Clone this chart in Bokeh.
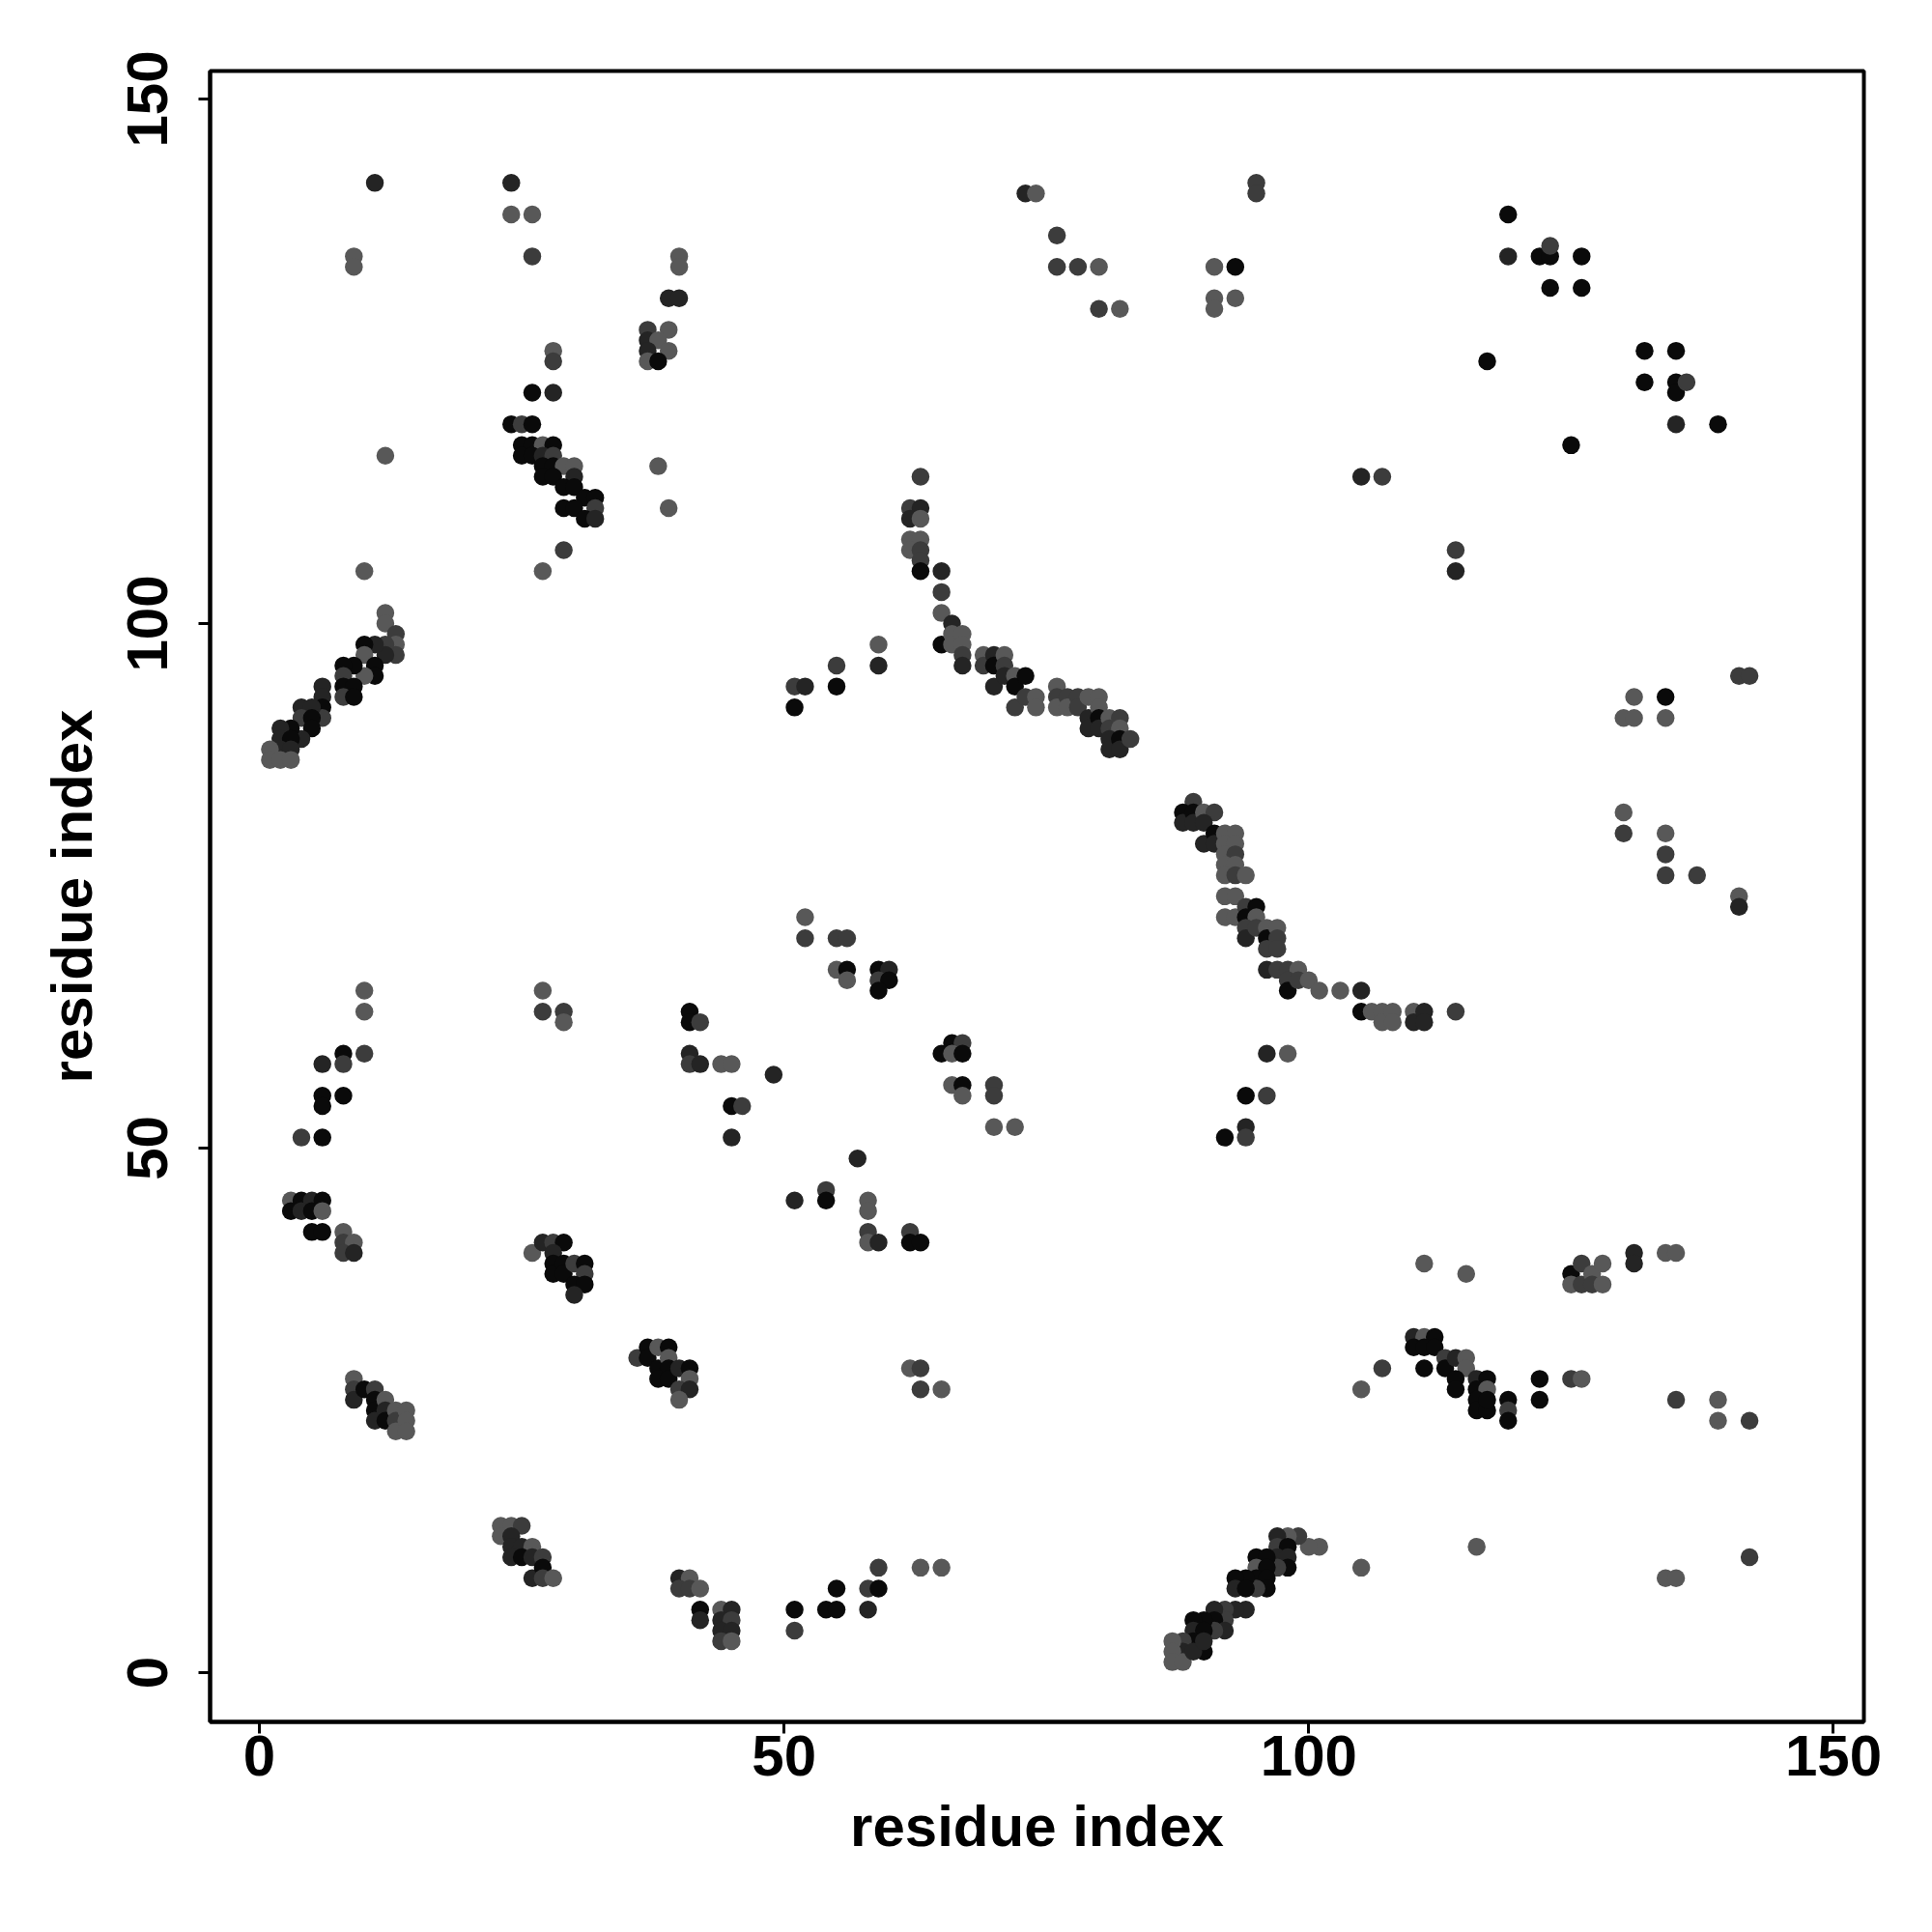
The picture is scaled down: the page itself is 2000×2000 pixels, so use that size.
from bokeh.plotting import figure
from bokeh.models import ColumnDataSource, Range1d, FixedTicker
from bokeh.embed import file_html
from bokeh.resources import INLINE

# gray levels of the markers (0 = black)
K, D, M, G = 10, 36, 60, 88

# contacts: residue i (x), residue j (y), gray shade
res_i = [
    11, 24, 24, 26, 9, 9, 26, 28, 28, 26, 28, 24, 25, 26,
    25, 26, 27, 28, 25, 26, 27, 28, 27, 28, 29, 30, 27, 28, 30, 29, 30, 31, 32, 29, 30, 32, 31, 32,
    29, 27, 10, 12, 12,
    73, 74, 40, 40, 39, 40, 37, 39, 37, 38, 37, 39, 37, 38, 38, 39,
    63, 62, 63, 62, 63, 62, 63, 62, 63, 63, 63, 65, 65, 65, 66,
    95, 95, 76, 76, 78, 80, 80, 82, 91, 93, 91, 91, 93, 105, 107, 114, 114,
    119, 119, 122, 123, 123, 126, 123, 126, 117, 125, 132, 135, 132, 135, 135, 136, 135, 139,
    12, 13, 13, 13, 12, 12, 11, 10, 10, 11, 11, 10, 9, 8, 8, 8, 9, 8, 9, 6, 6, 6, 6, 4, 5, 4, 5, 5,
    4, 3, 2, 2, 3, 2, 3, 1, 1, 2, 3,
    10, 10, 10, 8, 8, 6, 6, 8, 6, 4, 6, 27, 27, 29, 29,
    59, 59, 55, 55, 51, 52, 51, 65, 66, 66, 67, 67, 67, 67, 69, 69, 70, 70, 70, 71, 71, 71, 72, 72,
    72, 73, 73, 74, 74,
    76, 76, 76, 77, 77, 78, 78, 79, 79, 79, 80, 80, 80, 80, 81, 81, 82, 82, 81, 81, 82, 82, 83,
    89, 88, 88, 89, 89, 90, 91, 90, 90, 91, 91, 92, 93, 92, 93, 92, 93, 92, 93, 92, 93, 94, 92, 93,
    92, 93, 94, 95, 94, 95, 94, 94, 95, 96, 96, 97, 97, 96, 97, 96, 97, 98, 99, 98, 98, 99, 100, 101,
    103, 105, 105, 106, 107, 107, 108, 108, 110, 110, 111, 111, 114, 96, 98, 94, 96, 94, 94, 92,
    141, 142, 131, 134, 130, 131, 134, 130, 130, 134, 134, 134, 137, 141, 141,
    52, 52, 55, 56, 55, 56, 56, 59, 60, 59, 60, 59, 41, 41, 42, 41, 41, 42, 44, 45, 49, 45, 46, 45,
    57, 65, 66, 67, 66, 67, 66, 67, 67, 70, 70, 70, 72,
    3, 4, 5, 6, 3, 4, 5, 6, 5, 6, 8, 8, 9, 8, 9,
    26, 27, 28, 29, 28, 28, 28, 29, 29, 30, 31, 31, 30, 31, 30,
    9, 9, 9, 10, 11, 11, 11, 11, 12, 12, 12, 13, 13, 13, 14, 14, 14,
    23, 24, 25, 23, 24, 24, 25, 26, 24, 25, 26, 27, 26, 27, 27, 28,
    51, 54, 54, 58, 58, 58, 58, 59, 62, 62, 63,
    36, 37, 37, 38, 39, 38, 39, 39, 38, 39, 40, 41, 41, 40, 41, 40,
    62, 63, 63, 65,
    59, 63, 65, 55, 58, 59, 51, 54, 55, 58, 51,
    40, 41, 40, 41, 42, 42, 42, 44, 45, 44, 45, 44, 45, 44, 45,
    111, 110, 111, 112, 110, 111, 112, 111, 113, 113, 107, 105, 105,
    101, 100, 99, 98, 97, 97, 98, 97, 98, 98, 97, 95, 96, 95, 96, 95, 96, 96, 95, 94, 93, 93, 94,
    94, 93, 92, 92, 91, 91, 92, 91, 90, 89, 89, 90, 90, 89, 88, 88, 87, 87, 87, 88, 89, 90,
    115, 125, 126, 125, 126, 127, 127, 128, 128, 131, 131, 134, 135,
    114, 115, 115, 114, 114, 116, 117, 116, 117, 116, 116, 117, 117, 119, 119, 119, 122, 122, 125,
    126, 135, 139, 139, 142, 116, 134, 135, 142,
]
res_j = [
    142, 142, 139, 139, 135, 134, 135, 126, 125, 122, 122, 119, 119, 119,
    117, 117, 117, 117, 116, 116, 116, 116, 115, 115, 115, 115, 114, 114, 114, 113, 113, 112, 112,
    111, 111, 111, 110, 110,
    107, 105, 105, 116, 101,
    141, 141, 135, 134, 131, 131, 128, 128, 127, 127, 126, 126, 125, 125, 115, 111,
    114, 111, 111, 110, 110, 108, 108, 107, 107, 106, 105, 105, 103, 101, 100,
    142, 141, 137, 134, 134, 134, 130, 130, 134, 134, 131, 130, 131, 114, 114, 107, 105,
    139, 135, 135, 135, 136, 135, 132, 132, 125, 117, 126, 126, 123, 123, 122, 123, 119, 119,
    100, 99, 98, 97, 98, 97, 98, 98, 97, 96, 95, 95, 96, 96, 95, 94, 94, 93, 93, 94, 93, 92, 91, 92,
    92, 91, 91, 90,
    89, 90, 90, 89, 89, 88, 88, 88, 87, 87, 87,
    65, 63, 59, 59, 58, 58, 55, 55, 54, 51, 51, 65, 63, 63, 62,
    98, 96, 96, 94, 94, 94, 92, 98, 99, 98, 99, 98, 97, 96, 97, 96, 97, 96, 94, 97, 96, 95, 95, 94,
    92, 95, 93, 93, 92,
    94, 93, 92, 93, 92, 93, 92, 93, 91, 90, 93, 92, 91, 90, 91, 90, 91, 90, 89, 88, 89, 88, 89,
    83, 82, 81, 82, 81, 82, 82, 81, 79, 80, 79, 80, 80, 79, 79, 78, 78, 77, 77, 76, 76, 76, 74, 74,
    72, 72, 73, 73, 72, 72, 71, 70, 71, 71, 70, 71, 70, 69, 69, 67, 67, 67, 67, 66, 65, 66, 66, 65,
    65, 65, 63, 63, 63, 62, 63, 62, 63, 62, 63, 62, 63, 59, 59, 55, 55, 52, 51, 51,
    95, 95, 93, 93, 91, 91, 91, 82, 80, 80, 78, 76, 76, 74, 73,
    72, 70, 70, 70, 67, 67, 66, 67, 67, 66, 66, 65, 63, 62, 62, 59, 58, 58, 58, 58, 57, 54, 54, 51,
    49, 59, 60, 60, 59, 59, 56, 56, 55, 56, 55, 52, 52,
    45, 45, 45, 45, 44, 44, 44, 44, 42, 42, 42, 41, 41, 40, 40,
    40, 41, 41, 41, 40, 39, 38, 39, 38, 39, 39, 38, 37, 37, 36,
    28, 27, 26, 27, 27, 26, 25, 24, 26, 25, 24, 25, 24, 23, 25, 24, 23,
    14, 14, 14, 13, 13, 12, 12, 12, 11, 11, 11, 11, 9, 10, 9, 9,
    45, 46, 45, 45, 44, 42, 41, 41, 42, 41, 41,
    30, 31, 30, 31, 31, 29, 30, 29, 28, 28, 29, 29, 28, 27, 27, 26,
    29, 29, 27, 27,
    10, 10, 10, 8, 8, 8, 6, 6, 6, 6, 4,
    9, 9, 8, 8, 8, 6, 5, 6, 6, 5, 5, 4, 4, 3, 3,
    39, 32, 32, 32, 31, 31, 31, 29, 30, 29, 29, 27, 10,
    12, 12, 13, 13, 13, 12, 12, 11, 11, 10, 10, 11, 11, 10, 10, 9, 9, 8, 8, 9, 9, 8, 8,
    6, 6, 6, 5, 6, 5, 4, 4, 5, 5, 4, 4, 2, 3, 3, 2, 3, 2, 1, 1, 2, 3,
    38, 38, 39, 37, 37, 38, 37, 39, 37, 40, 39, 40, 40,
    30, 30, 29, 28, 27, 28, 28, 27, 27, 26, 25, 25, 26, 26, 25, 24, 28, 26, 28,
    28, 26, 26, 24, 24, 12, 9, 9, 11,
]
shade = [
    D, D, G, G, G, G, M, G, M, K, D, K, M, K,
    K, K, G, K, K, K, D, M, K, K, G, G, K, K, D, K, K, K, K, K, K, M, K, D,
    M, G, G, G, G,
    D, G, G, G, D, D, M, G, D, G, D, G, G, K, G, G,
    M, M, D, D, G, G, G, G, M, M, K, D, M, G, D,
    M, M, M, M, M, G, M, G, G, K, G, G, G, D, M, M, D,
    K, D, K, K, M, K, K, K, K, K, K, K, K, K, K, M, D, K,
    G, M, G, M, M, D, D, K, G, K, K, G, K, K, M, K, K, M, K, D, D, K, M, D, D, M, K, K,
    D, K, D, D, K, D, D, G, G, G, G,
    G, G, M, K, M, D, K, K, K, M, K, G, M, M, G,
    G, D, M, K, M, D, K, K, G, G, G, G, M, D, G, M, D, K, D, G, M, D, G, K,
    M, K, M, G, G,
    G, M, G, M, G, M, M, G, D, D, G, G, K, D, G, M, M, G, D, D, K, D, M,
    M, K, D, K, D, G, M, D, D, K, D, G, G, G, G, G, M, G, G, G, M, G, G, G,
    G, G, M, K, K, G, M, D, M, G, K, G, M, M, M, D, M, M, G, M, K, M, G, G,
    G, D, K, G, G, G, G, G, G, D, D, D, M, D, G, K, M, D, M, K,
    M, M, G, K, G, G, G, G, M, G, M, M, M, G, D,
    G, M, M, M, G, K, G, K, D, M, K, K, K, K, M, D, M, D, G, G, D, K, M, D,
    D, K, K, M, G, K, G, K, G, M, M, G, G,
    G, K, D, K, K, D, K, G, K, K, G, M, G, M, D,
    G, D, M, K, D, K, K, K, K, M, K, M, K, K, D,
    G, M, D, K, M, K, K, D, G, D, K, G, M, G, G, G, G,
    G, G, M, G, D, D, D, G, D, K, D, M, D, K, M, G,
    D, M, K, G, G, M, G, D, M, K, K,
    M, K, K, G, K, K, G, K, K, K, D, K, G, M, D, G,
    G, M, M, G,
    M, G, G, K, M, K, K, K, K, D, M,
    D, G, M, M, G, K, D, G, D, D, M, D, D, M, G,
    G, D, G, K, K, K, K, K, M, K, M, G, G,
    G, G, M, G, D, M, K, D, D, K, M, K, K, G, K, K, K, K, M, K, K, D, K,
    D, D, M, M, D, K, D, M, K, K, D, K, K, K, M, D, G, G, G, G, D, D,
    G, K, M, G, M, G, M, G, G, D, D, G, G,
    D, G, G, K, K, D, K, K, G, K, K, K, K, K, M, K, K, K, M,
    G, M, G, G, M, G, G, G, M,
]

n = min(len(res_i), len(res_j), len(shade))
colors = ["#%02x%02x%02x" % (s, s, s) for s in shade[:n]]
src = ColumnDataSource(dict(x=res_i[:n], y=res_j[:n], c=colors))

FONT = "Liberation Sans"

p = figure(width=1984, height=1984, output_backend="svg", toolbar_location=None,
           x_range=Range1d(-4.7, 152.9), y_range=Range1d(-4.7, 152.67),
           min_border_left=217, min_border_right=55, min_border_top=73, min_border_bottom=202,
           background_fill_color="white", border_fill_color="white")
p.grid.visible = False
p.outline_line_color = "black"
p.outline_line_width = 4

p.scatter("x", "y", source=src, size=18.5, fill_color="c", line_color=None, marker="circle")

for ax in (p.xaxis[0], p.yaxis[0]):
    ax.ticker = FixedTicker(ticks=[0, 50, 100, 150])
    ax.axis_label = "residue index"
    ax.axis_label_text_font = FONT
    ax.axis_label_text_font_style = "bold"
    ax.axis_label_text_font_size = "60px"
    ax.axis_label_text_color = "black"
    ax.major_label_text_font = FONT
    ax.major_label_text_font_style = "bold"
    ax.major_label_text_font_size = "60px"
    ax.major_label_text_color = "black"
    ax.axis_line_color = "black"
    ax.axis_line_width = 4
    ax.major_tick_line_color = "black"
    ax.major_tick_line_width = 3
    ax.major_tick_out = 12
    ax.major_tick_in = 0
    ax.minor_tick_line_color = None

p.xaxis[0].major_label_standoff = 2
p.xaxis[0].axis_label_standoff = 16
p.yaxis[0].major_label_orientation = "vertical"
p.yaxis[0].major_label_standoff = 32
p.yaxis[0].axis_label_standoff = 22

open("out.html", "w").write(file_html(p, INLINE))
